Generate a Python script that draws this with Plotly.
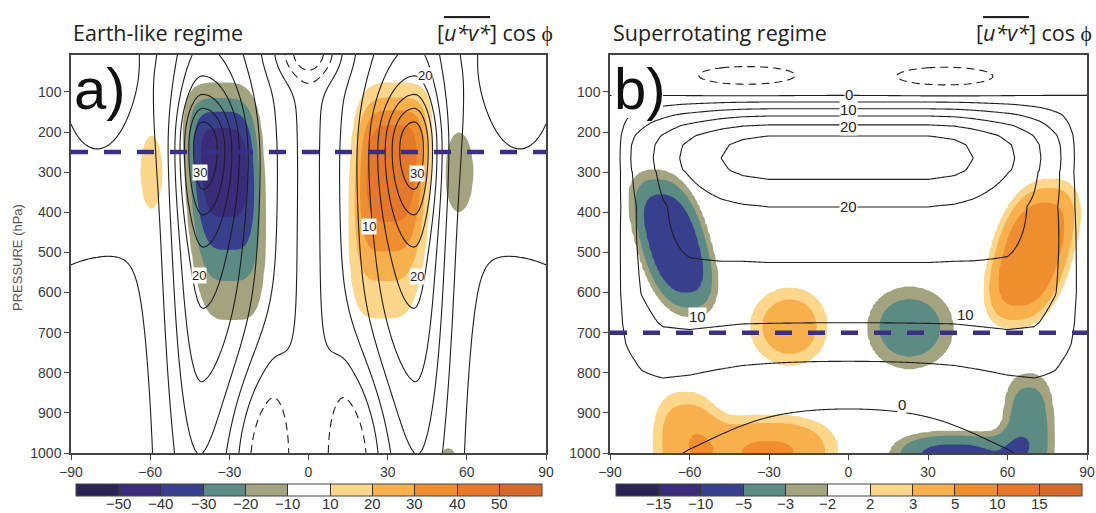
import numpy as np
import plotly.graph_objects as go

FIG_W, FIG_H = 1096, 513

# latitude / pressure grid of the zonal-mean fields
LAT = np.arange(-90.0, 90.01, 1.0)
PRES = np.arange(8.0, 1000.01, 4.0)
LL, PP = np.meshgrid(LAT, PRES)

# shading levels of [u*v*] cos(phi) and their colours
LEVELS_A = [-50, -40, -30, -20, -10, 10, 20, 30, 40, 50]
LEVELS_B = [-15, -10, -5, -3, -2, 2, 3, 5, 10, 15]
SHADE_COLORS = ["#2b2255", "#3b2c7a", "#38408e", "#5b8b83", "#a3a47f", "#ffffff",
                "#fcd68a", "#f7b04b", "#ef8e2f", "#e6782b", "#d4692c"]

X_TICKS = [-90, -60, -30, 0, 30, 60, 90]
P_TICKS = [100, 200, 300, 400, 500, 600, 700, 800, 900, 1000]

# ---- Earth-like regime: eddy momentum flux features
A_FLUX_LAT = [-32, 31.5, -59.5, 57, 53]
A_FLUX_P = [290, 290, 300, 300, 1010]
A_FLUX_AMP = [-47, 49, 13, -14, -13]
A_FLUX_WLAT = [11.5, 11.8, 5.5, 6.5, 3.5]
A_FLUX_WUP = [146, 145, 125, 120, 30]
A_FLUX_WDN = [215, 210, 125, 120, 30]
A_FLUX_QX = [2, 2, 1, 1, 1]
A_FLUX_QUP = [1.5, 1.5, 1, 1, 1]
A_FLUX_QDN = [1, 1, 1, 1, 1]
A_FLUX_TILT = [0.008, -0.008, 0, 0, 0]

# ---- Earth-like regime: zonal wind features (jets, easterlies)
A_WIND_LAT = [-40, 40, -40, 40, 0, 0, -15, 15, -80, 80, -78, 78]
A_WIND_P = [300, 300, 230, 230, 400, 0, 1000, 1000, 8, 8, 1000, 1000]
A_WIND_AMP = [24, 24, 16, 16, -3.5, -13, -13, -13, 8, 8, -4, -4]
A_WIND_WS = [9, 16, 5.5, 8, 5, 8, 11, 6, 15, 15, 12, 12]
A_WIND_WN = [16, 9, 8, 5.5, 5, 8, 6, 11, 15, 15, 12, 12]
A_WIND_WUP = [320, 320, 80, 80, 3000, 47, 160, 160, 250, 250, 300, 300]
A_WIND_WDN = [560, 560, 130, 130, 500, 47, 160, 160, 250, 250, 300, 300]

# ---- Superrotating regime: eddy momentum flux features
B_FLUX_LAT = [-66, -22, 23, 69, -62, -30, 68, 40]
B_FLUX_P = [478, 685, 688, 505, 960, 1005, 930, 1012]
B_FLUX_AMP = [-8.5, 4.5, -4.5, 9, 3.8, 5.4, -4.2, -6.2]
B_FLUX_WLAT = [9.3, 11.8, 13.1, 10.2, 10, 20, 8, 18]
B_FLUX_WP = [120, 76, 80, 121, 100, 75, 110, 48]
B_FLUX_Q = [1.25, 1, 1, 1.25, 1.25, 1.25, 1.25, 1.25]
B_FLUX_TILT = [0.04, 0, 0, -0.04, 0, 0, 0, 0]

# ---- Superrotating regime: zonal wind (equatorial profile x meridional shape)
B_WIND_P = [8, 40, 80, 110, 125, 142, 160, 182, 209, 232, 265, 295, 318, 386, 525, 675, 770, 885, 1000]
B_WIND_EQ = [-1.5, -2, -1.5, 0, 5, 10, 15, 20, 25, 26.8, 27.5, 26.8, 25, 20, 15, 10, 5, 0, -3]
B_WIND_LAT_UP = [-90, -86, -82, -73, -63, -48, -40, -30, 30, 40, 47, 62, 72, 80, 85, 90]
B_WIND_FRAC_UP = [0.03, 0.19, 0.37, 0.56, 0.74, 0.91, 0.97, 1.0, 1.0, 0.97, 0.91, 0.74, 0.56, 0.37, 0.19, 0.03]
B_WIND_LAT_LOW = [-90, -87, -84, -78, -70, -60, -40, 0, 40, 60, 70, 78, 84, 87, 90]
B_WIND_FRAC_LOW = [0.03, 0.3, 0.55, 0.8, 1.0, 1.05, 1.0, 1.0, 1.0, 1.05, 1.0, 0.8, 0.55, 0.3, 0.03]
B_WIND_BLEND_P = [300, 600]
B_WIND_XLAT = [-39, 37, -90, 90]
B_WIND_XP = [60, 62, 1000, 1000]
B_WIND_XAMP = [-6.5, -6.5, 4.5, 4.5]
B_WIND_XWLAT = [16, 16, 32, 32]
B_WIND_XWP = [19, 19, 160, 160]

# contour labels (lat, p, value)
A_LBL_LAT = [-41, 41, -41.5, 41, 44, 23]
A_LBL_P = [300, 303, 558, 561, 58, 436]
A_LBL_VAL = [30, 30, 20, 20, 20, 10]
B_LBL_LAT = [0, 0, 0, 0, -57, 44, 20]
B_LBL_P = [107, 143, 185, 386, 660, 655, 878]
B_LBL_VAL = [0, 10, 20, 20, 10, 10, 0]

A_REF_P = 250
B_REF_P = 700


def features(lat0, p0, amp, w_s, w_n, w_up, w_dn, qx=None, q_up=None, q_dn=None, tilt=None):
    """Sum of smooth localized (separable, optionally flat-topped) features."""
    n = len(amp)
    qx = qx or [1] * n
    q_up = q_up or [1] * n
    q_dn = q_dn or [1] * n
    tilt = tilt or [0] * n
    out = np.zeros_like(LL)
    for i in range(n):
        c = lat0[i] + tilt[i] * (PP - p0[i])
        dx = LL - c
        dy = PP - p0[i]
        ax = np.abs(dx / np.where(dx < 0, w_s[i], w_n[i]))
        ay = np.abs(dy / np.where(dy < 0, w_up[i], w_dn[i]))
        qy = np.where(dy < 0, q_up[i], q_dn[i])
        out += amp[i] * np.exp(-0.5 * ax ** (2 * qx[i])) * np.exp(-0.5 * ay ** (2 * qy))
    return out


flux_a = features(A_FLUX_LAT, A_FLUX_P, A_FLUX_AMP, A_FLUX_WLAT, A_FLUX_WLAT,
                  A_FLUX_WUP, A_FLUX_WDN, A_FLUX_QX, A_FLUX_QUP, A_FLUX_QDN, A_FLUX_TILT)
wind_a = features(A_WIND_LAT, A_WIND_P, A_WIND_AMP, A_WIND_WS, A_WIND_WN,
                  A_WIND_WUP, A_WIND_WDN)
flux_b = features(B_FLUX_LAT, B_FLUX_P, B_FLUX_AMP, B_FLUX_WLAT, B_FLUX_WLAT,
                  B_FLUX_WP, B_FLUX_WP, B_FLUX_Q, B_FLUX_Q, B_FLUX_Q, B_FLUX_TILT)

blend = np.interp(PRES, B_WIND_BLEND_P, [0.0, 1.0])[:, None]
frac_b = ((1 - blend) * np.interp(LAT, B_WIND_LAT_UP, B_WIND_FRAC_UP)[None, :]
          + blend * np.interp(LAT, B_WIND_LAT_LOW, B_WIND_FRAC_LOW)[None, :])
wind_b = (np.interp(PRES, B_WIND_P, B_WIND_EQ)[:, None] * frac_b
          + features(B_WIND_XLAT, B_WIND_XP, B_WIND_XAMP, B_WIND_XWLAT, B_WIND_XWLAT,
                     B_WIND_XWP, B_WIND_XWP))


def to_index(z, levels):
    """Map field values onto equally spaced shading bands (level k -> k)."""
    xp = [-1e5] + list(levels) + [1e5]
    fp = list(range(len(levels) + 2))
    return np.interp(z, xp, fp)


def fill_scale():
    n = len(SHADE_COLORS) - 1
    sc = [[0.0, SHADE_COLORS[0]]]
    for k in range(n):
        b = (k + 0.5) / n
        sc += [[b, SHADE_COLORS[k]], [b, SHADE_COLORS[k + 1]]]
    sc.append([1.0, SHADE_COLORS[-1]])
    return sc


def bar_scale():
    n = len(SHADE_COLORS)
    sc = []
    for k, c in enumerate(SHADE_COLORS):
        sc += [[k / n, c], [(k + 1) / n, c]]
    return sc


def px(x):
    return x / FIG_W


def py(y):
    return 1 - y / FIG_H


def minus(v):
    return str(v).replace("-", "\u2212")


TICK_FONT = dict(family="Liberation Sans", size=14, color="#3a3a3a")
LINE_COL = "#1e1e1e"

fig = go.Figure()
ann = []

panels = [
    ("x", "y", flux_a, wind_a, LEVELS_A, 35, -10, A_REF_P, 76, 542),
    ("x2", "y2", flux_b, wind_b, LEVELS_B, 25, -5, B_REF_P, 616, 1082),
]
for xa, ya, flux, wind, levels, top, bottom, ref_p, cb0, cb1 in panels:
    nlev = len(levels)
    fig.add_trace(go.Contour(
        x=LAT, y=PRES, z=to_index(flux, levels), xaxis=xa, yaxis=ya,
        autocontour=False,
        contours=dict(start=1, end=nlev, size=1, coloring="fill", showlines=False),
        colorscale=fill_scale(), showscale=False, line=dict(width=0),
        hoverinfo="skip"))
    fig.add_trace(go.Contour(
        x=LAT, y=PRES, z=wind, xaxis=xa, yaxis=ya, autocontour=False,
        contours=dict(start=0, end=top, size=5, coloring="none"),
        line=dict(color=LINE_COL, width=1.1, smoothing=1.0),
        showscale=False, hoverinfo="skip"))
    fig.add_trace(go.Contour(
        x=LAT, y=PRES, z=wind, xaxis=xa, yaxis=ya, autocontour=False,
        contours=dict(start=bottom, end=-5, size=5, coloring="none"),
        line=dict(color=LINE_COL, width=1.1, smoothing=1.0, dash="8px,5px"),
        showscale=False, hoverinfo="skip"))
    fig.add_trace(go.Scatter(
        x=[-90, 90], y=[ref_p, ref_p], xaxis=xa, yaxis=ya, mode="lines",
        line=dict(color="#3a2f86", width=4.5, dash="17px,16px"),
        hoverinfo="skip", showlegend=False))
    # colour key: the bar comes from the library, its labels sit just beneath it
    fig.add_trace(go.Scatter(
        x=[-200], y=[500], xaxis=xa, yaxis=ya, mode="markers",
        marker=dict(size=1, opacity=0, color=[0], cmin=0, cmax=nlev + 1,
                    colorscale=bar_scale(), showscale=True,
                    colorbar=dict(orientation="h", x=px((cb0 + cb1) / 2), xanchor="center",
                                  y=py(484), yanchor="top", len=(cb1 - cb0) / FIG_W,
                                  lenmode="fraction", thickness=12, thicknessmode="pixels",
                                  xpad=0, ypad=0, outlinewidth=1, outlinecolor="#444",
                                  tickmode="array", tickvals=list(range(1, nlev + 1)),
                                  ticktext=[""] * nlev, ticks="inside",
                                  ticklen=12, tickwidth=1, tickcolor="#333",
                                  tickfont=dict(size=1))),
        hoverinfo="skip", showlegend=False))
    step = (cb1 - cb0) / (nlev + 1)
    for k, v in enumerate(levels, start=1):
        ann.append(dict(x=px(cb0 + k * step), y=py(503.5), xref="paper", yref="paper",
                        text=minus(v), showarrow=False, xanchor="center", yanchor="middle",
                        font=dict(family="Liberation Sans", size=15, color="#333")))

axis_common = dict(showline=True, mirror=True, linecolor="#444", linewidth=1.5,
                   ticks="outside", ticklen=5, tickwidth=1.2, tickcolor="#444",
                   tickfont=TICK_FONT, showgrid=False, zeroline=False)

fig.update_layout(
    width=FIG_W, height=FIG_H, margin=dict(l=0, r=0, t=0, b=0, autoexpand=False),
    paper_bgcolor="white", plot_bgcolor="white", showlegend=False,
    font=dict(family="Liberation Sans"),
    xaxis=dict(domain=[px(71), px(546)], range=[-90, 90], tickvals=X_TICKS,
               ticktext=[minus(v) for v in X_TICKS], anchor="y", **axis_common),
    yaxis=dict(domain=[py(453), py(55)], range=[1000, 8], tickvals=P_TICKS,
               anchor="x", **axis_common),
    xaxis2=dict(domain=[px(610), px(1087)], range=[-90, 90], tickvals=X_TICKS,
                ticktext=[minus(v) for v in X_TICKS], anchor="y2", **axis_common),
    yaxis2=dict(domain=[py(453), py(55)], range=[1000, 8], tickvals=P_TICKS,
                anchor="x2", **axis_common),
)

TITLE_FONT = dict(family="Open Sans", size=21.5, color="#222")
FLUX_TITLE = '[<span style="text-decoration:overline"><i>u*v*</i></span>] cos \u03d5'
for x_left, x_right, name in [(71, 555, "Earth-like regime"), (611, 1094, "Superrotating regime")]:
    ann.append(dict(x=px(x_left), y=py(32), xref="paper", yref="paper", text=name,
                    showarrow=False, xanchor="left", yanchor="middle", font=TITLE_FONT))
    ann.append(dict(x=px(x_right), y=py(32), xref="paper", yref="paper", text=FLUX_TITLE,
                    showarrow=False, xanchor="right", yanchor="middle", font=TITLE_FONT))

for x_left, letter in [(72, "a)"), (612, "b)")]:
    ann.append(dict(x=px(x_left), y=py(88), xref="paper", yref="paper", text=letter,
                    showarrow=False, xanchor="left", yanchor="middle",
                    font=dict(family="Liberation Sans", size=58, color="#111")))

ann.append(dict(x=px(17), y=py(258), xref="paper", yref="paper", text="PRESSURE (hPa)",
                showarrow=False, textangle=-90, xanchor="center", yanchor="middle",
                font=dict(family="Liberation Sans", size=13, color="#555")))

for lats, ps, vals, xa, ya, size in [(A_LBL_LAT, A_LBL_P, A_LBL_VAL, "x", "y", 13),
                                     (B_LBL_LAT, B_LBL_P, B_LBL_VAL, "x2", "y2", 15)]:
    for la, p, v in zip(lats, ps, vals):
        ann.append(dict(x=la, y=p, xref=xa, yref=ya, text=str(v), showarrow=False,
                        bgcolor="white", borderpad=0,
                        font=dict(family="Liberation Sans", size=size, color="#222")))

fig.update_layout(annotations=ann)

# white boxes behind the panel letters
shapes = []
for x0, x1 in [(72.5, 126), (611.5, 663)]:
    shapes.append(dict(type="rect", xref="paper", yref="paper", x0=px(x0), x1=px(x1),
                       y0=py(118), y1=py(57.5), fillcolor="white", line=dict(width=0),
                       layer="above"))
fig.update_layout(shapes=shapes)

fig.write_html("out.html")
